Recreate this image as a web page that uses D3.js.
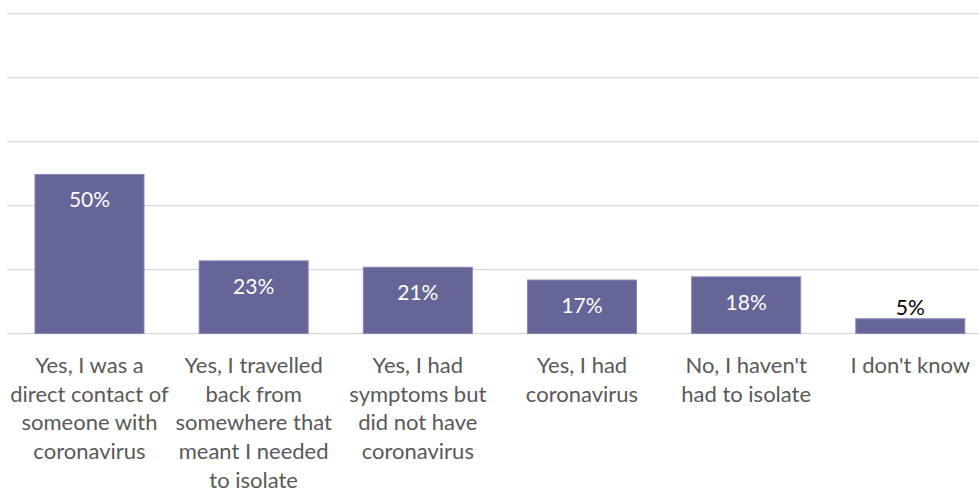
<!DOCTYPE html>
<html>
<head>
<meta charset="utf-8">
<script src="https://cdn.jsdelivr.net/npm/d3@7"></script>
<style>
  html, body { margin: 0; padding: 0; background: #fff; }
  svg { display: block; }
</style>
</head>
<body>
<svg id="chart" width="979" height="493"></svg>
<script>
// ---- data ----
const categories = [
  "Yes, I was a direct contact of someone with coronavirus",
  "Yes, I travelled back from somewhere that meant I needed to isolate",
  "Yes, I had symptoms but did not have coronavirus",
  "Yes, I had coronavirus",
  "No, I haven't had to isolate",
  "I don't know"
];
const categoryLines = [
  ["Yes, I was a", "direct contact of", "someone with", "coronavirus"],
  ["Yes, I travelled", "back from", "somewhere that", "meant I needed", "to isolate"],
  ["Yes, I had", "symptoms but", "did not have", "coronavirus"],
  ["Yes, I had", "coronavirus"],
  ["No, I haven't", "had to isolate"],
  ["I don't know"]
];
const values = [49.7, 22.7, 20.7, 16.7, 17.7, 4.6];
const yTicks = [0, 20, 40, 60, 80, 100];

// ---- layout ----
const svg = d3.select("#chart");
const plot = { left: 7.4, right: 992.4, top: 13.5, bottom: 333.5 };

const x = d3.scaleBand()
  .domain(categories)
  .range([plot.left, plot.right])
  .paddingInner(0.336)
  .paddingOuter(0.168);

const y = d3.scaleLinear()
  .domain([0, 100])
  .range([plot.bottom, plot.top]);

// gridlines
svg.append("g")
  .selectAll("line")
  .data(yTicks)
  .join("line")
  .attr("x1", plot.left)
  .attr("x2", plot.right)
  .attr("y1", d => y(d))
  .attr("y2", d => y(d))
  .attr("stroke", "#d9d9d9")
  .attr("stroke-width", 1.5);

const data = categories.map((c, i) => ({ cat: c, value: values[i], lines: categoryLines[i] }));

// bars
svg.append("g")
  .selectAll("rect")
  .data(data)
  .join("rect")
  .attr("x", d => x(d.cat))
  .attr("y", d => y(d.value))
  .attr("width", x.bandwidth())
  .attr("height", d => y(0) - y(d.value))
  .attr("fill", "#656597")
  .attr("stroke", "#8687b4")
  .attr("stroke-width", 1);

// data labels
const fmt = v => d3.format(".0f")(v) + "%";
svg.append("g")
  .selectAll("text")
  .data(data)
  .join("text")
  .attr("x", d => x(d.cat) + x.bandwidth() / 2)
  .attr("y", d => (y(0) - y(d.value) > 40) ? y(d.value) + 33 : y(d.value) - 4)
  .attr("text-anchor", "middle")
  .attr("font-family", "Lato, 'Open Sans', sans-serif")
  .attr("font-size", 21)
  .attr("fill", d => (y(0) - y(d.value) > 40) ? "#ffffff" : "#000000")
  .text(d => fmt(d.value));

// category labels
const lab = svg.append("g")
  .selectAll("text")
  .data(data)
  .join("text")
  .attr("text-anchor", "middle")
  .attr("font-family", "Lato, 'Open Sans', sans-serif")
  .attr("font-size", 22)
  .attr("fill", "#595959");

lab.selectAll("tspan")
  .data(d => d.lines.map(l => ({ l, cx: x(d.cat) + x.bandwidth() / 2 })))
  .join("tspan")
  .attr("x", d => d.cx)
  .attr("y", (d, i) => 373 + i * 28.7)
  .text(d => d.l);
</script>
</body>
</html>
